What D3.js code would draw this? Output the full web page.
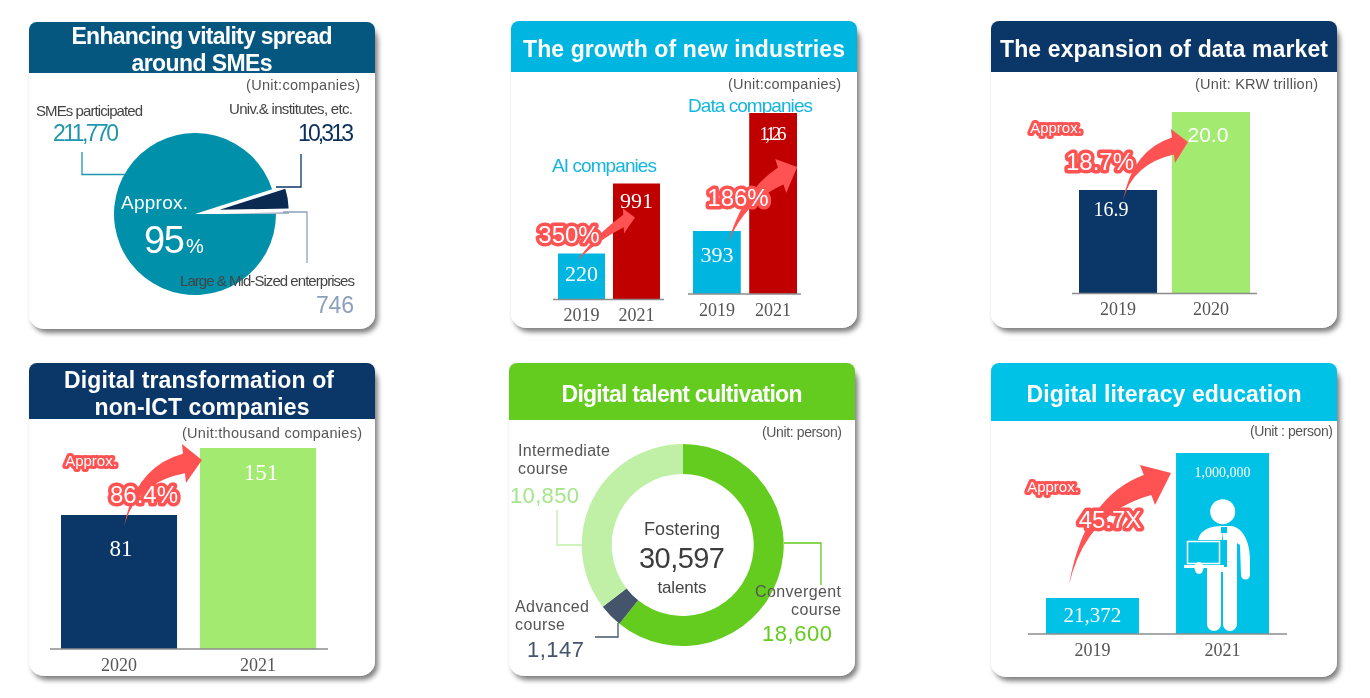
<!DOCTYPE html>
<html><head><meta charset="utf-8">
<script src="https://cdnjs.cloudflare.com/ajax/libs/d3/7.8.5/d3.min.js"></script>
<style>html,body{margin:0;padding:0;background:#fff;overflow:hidden}svg{display:block;filter:blur(.35px)}</style>
</head><body><svg id="c" width="1370" height="698"></svg>
<script>
// ---------- data ----------
const smeLabels = ["SMEs participated", "Univ.& institutes, etc.", "Large & Mid-Sized enterprises"];
const smeValues = [211770, 10313, 746];
const aiYears = ["2019", "2021"];
const aiValues = [220, 991];
const dataCoYears = ["2019", "2021"];
const dataCoValues = [393, 1126];
const marketYears = ["2019", "2020"];
const marketValues = [16.9, 20.0];
const nonIctYears = ["2020", "2021"];
const nonIctValues = [81, 151];
const talentLabels = ["Convergent course", "Advanced course", "Intermediate course"];
const talentValues = [18600, 1147, 10850];
const literacyYears = ["2019", "2021"];
const literacyValues = [21372, 1000000];

// ---------- layout ----------
const svg = d3.select("#c");
const SANS = "'Liberation Sans',Arial,sans-serif", SERIF = "'Liberation Serif',serif";
const defs = svg.append("defs");
defs.append("filter").attr("id","sh").attr("x","-10%").attr("y","-10%").attr("width","120%").attr("height","120%")
  .append("feDropShadow").attr("dx",3).attr("dy",4).attr("stdDeviation",2.6).attr("flood-color","#000").attr("flood-opacity",.5);

function text(str,o){
  const t = svg.append("text").text(str).attr("x",o.x).attr("y",o.y).attr("dy","0.35em")
    .attr("text-anchor",o.a||"middle").attr("font-family",o.f||SANS).attr("font-size",o.s)
    .attr("fill",o.c||"#555").attr("font-weight",o.w||400);
  if(o.ls!==undefined) t.attr("letter-spacing",o.ls);
  if(o.tl) t.attr("textLength",o.tl).attr("lengthAdjust","spacing");
  if(o.stroke) t.attr("stroke",o.stroke).attr("stroke-width",o.sw).attr("stroke-linejoin","round").attr("paint-order","stroke");
  return t;
}
function panel(x,y,w,h,hh,color,i){
  svg.append("rect").attr("x",x).attr("y",y).attr("width",w).attr("height",h).attr("rx",15).attr("fill","#fff").attr("filter","url(#sh)");
  const p=d3.path();
  p.moveTo(x,y+hh);p.lineTo(x,y+8);p.arcTo(x,y,x+8,y,8);p.lineTo(x+w-8,y);p.arcTo(x+w,y,x+w,y+8,8);p.lineTo(x+w,y+hh);p.closePath();
  svg.append("path").attr("d",p.toString()).attr("fill",color);
  defs.append("clipPath").attr("id","hc"+i).append("rect").attr("x",x).attr("y",y).attr("width",w).attr("height",hh);
}
function leader(pts,c){
  svg.append("path").attr("d",d3.line()(pts)).attr("fill","none").attr("stroke",c).attr("stroke-width",1.3);
}
function arrow(S,T,H1,H2,b){
  const lerp=(A,B,k)=>[A[0]+(B[0]-A[0])*k,A[1]+(B[1]-A[1])*k];
  const N1=lerp(H1,H2,.25),N2=lerp(H1,H2,.75);
  const ctrl=N=>[S[0]+(N[0]-S[0])*(.5-b),S[1]+(N[1]-S[1])*(.5+b)];
  const c1=ctrl(N1),c2=ctrl(N2),p=d3.path();
  p.moveTo(S[0],S[1]);p.quadraticCurveTo(c1[0],c1[1],N1[0],N1[1]);
  p.lineTo(H1[0],H1[1]);p.lineTo(T[0],T[1]);p.lineTo(H2[0],H2[1]);p.lineTo(N2[0],N2[1]);
  p.quadraticCurveTo(c2[0],c2[1],S[0],S[1]);p.closePath();
  svg.append("path").attr("d",p.toString()).attr("fill","#ff5252");
}
function callout(str,x,y,s){
  return text(str,{x,y,s,c:"#fff",stroke:"#ff5252",sw:s>20?7:6});
}
function bars(o){
  const x=d3.scaleBand().domain(o.cats).range(o.xr).paddingInner(o.pad);
  const y=d3.scaleLinear().domain(o.vals).range([o.base-o.h[0],o.base-o.h[1]]);
  const g=svg.append("g");
  g.selectAll("rect").data(o.vals).join("rect")
    .attr("x",(d,i)=>x(o.cats[i])).attr("width",x.bandwidth())
    .attr("y",d=>y(d)).attr("height",d=>o.base-y(d))
    .attr("fill",(d,i)=>o.colors[i]);
  const ax=svg.append("g").attr("transform",`translate(0,${o.base})`)
    .call(d3.axisBottom(x).tickSize(0).tickPadding(o.tp||9));
  ax.select(".domain").attr("d",`M${o.ax[0]},0H${o.ax[1]}`).attr("stroke","#8c8c8c").attr("stroke-width",1.5);
  ax.selectAll("text").attr("font-family",SERIF).attr("font-size",18).attr("fill","#555");
  o.vals.forEach((v,i)=>{
    const L=o.lab[i];
    text(L.t||String(v),{x:x(o.cats[i])+x.bandwidth()/2+(L.dx||0),y:y(v)+L.dy,s:L.s||21,f:L.f||SERIF,c:"#fff",tl:L.tl});
  });
  if(o.arrow){
    const A=o.arrow,a0=[x(o.cats[0]),y(o.vals[0])],a1=[x(o.cats[1]),y(o.vals[1])];
    const rel=(B,d)=>[B[0]+d[0],B[1]+d[1]];
    arrow(rel(a0,A.from),rel(a1,A.tip),rel(a1,A.h1),rel(a1,A.h2),A.b);
  }
}

// ---------- panels ----------
panel(29,22,346,307,51,"#05577f",1);
panel(511,21,346,307,51,"#00b6e0",2);
panel(991,21,346,307,51,"#0a3768",3);
panel(29,363,346,313,56,"#0a3768",4);
panel(509,363,346,313,57,"#63cc1e",5);
panel(991,363,346,314,58,"#00c2e6",6);

const T={s:23,c:"#fff",w:700};
text("Enhancing vitality spread",{...T,x:202,y:36,tl:261});
text("around SMEs",{...T,x:202,y:63,tl:141}).attr("clip-path","url(#hc1)");
text("The growth of new industries",{...T,x:684,y:49,tl:322});
text("The expansion of data market",{...T,x:1164,y:49,tl:328});
text("Digital transformation of",{...T,x:199,y:380,tl:270});
text("non-ICT companies",{...T,x:202,y:407,tl:215}).attr("clip-path","url(#hc4)");
text("Digital talent cultivation",{...T,x:682,y:394,tl:241});
text("Digital literacy education",{...T,x:1164,y:394,tl:275});

// ---------- panel 1: pie ----------
const cx1=195,cy1=214;
const smePie=d3.pie().sort(null).startAngle(Math.PI/2).endAngle(Math.PI*2.5)(smeValues);
const smeCol=["#0090aa","#0a2a52","#8da0bb"];
const smeR=[81,69,69],smeOff=[0,25,25];
svg.append("g").attr("transform",`translate(${cx1},${cy1})`).selectAll("path").data(smePie).join("path")
  .attr("d",(d,i)=>d3.arc().innerRadius(0).outerRadius(smeR[i])(d))
  .attr("transform",(d,i)=>{const a=(d.startAngle+d.endAngle)/2;return `translate(${Math.sin(a)*smeOff[i]},${-Math.cos(a)*smeOff[i]})`;})
  .attr("fill",(d,i)=>smeCol[i]);
leader([[82,152],[82,174.5],[125,174.5]],"#1f96ad");
leader([[301,154],[301,187],[276,187]],"#0a3768");
leader([[283,212],[307,212],[307,263]],"#8da0bb");
text("(Unit:companies)",{x:246,y:85,a:"start",s:14.5,tl:114});
text(smeLabels[0],{x:36,y:111,a:"start",s:15,c:"#444",tl:107});
text(d3.format(",")(smeValues[0]),{x:53,y:133,a:"start",s:23,c:"#1f96ad",tl:66});
text(smeLabels[1],{x:229,y:109,a:"start",s:15,c:"#444",tl:124});
text(d3.format(",")(smeValues[1]),{x:298,y:133,a:"start",s:23,c:"#0a2f5c",tl:56});
text("Approx.",{x:121,y:202,a:"start",s:19,c:"#fff",tl:67});
text("95",{x:144,y:240,a:"start",s:38,c:"#fff",tl:41});
text("%",{x:186,y:246,a:"start",s:20,c:"#fff"});
text(smeLabels[2],{x:180,y:281,a:"start",s:15,c:"#444",tl:175});
text(d3.format(",")(smeValues[2]),{x:316,y:305,a:"start",s:23,c:"#8da0bb",tl:38});

// ---------- panel 2: two bar groups ----------
text("(Unit:companies)",{x:728,y:84,a:"start",s:14.5,tl:113});
text("AI companies",{x:552,y:165,a:"start",s:19,c:"#14b5e0",tl:105});
text("Data companies",{x:688,y:105,a:"start",s:19,c:"#14b5e0",tl:125});
bars({cats:aiYears,vals:aiValues,xr:[558,660],pad:.145,base:299.5,h:[46,116],ax:[553,664],
  colors:["#00b6e0","#c00000"],lab:[{dy:20,s:22},{dy:17,s:22}],
  arrow:{from:[19,7],tip:[22,34],h1:[10,25],h2:[11,50],b:.08}});
bars({cats:dataCoYears,vals:dataCoValues,xr:[693,797],pad:.15,base:294,h:[63,181],ax:[688,801],
  colors:["#00b6e0","#c00000"],lab:[{dy:23,s:22},{dy:20,t:"1,126",s:19,tl:27}],
  arrow:{from:[35,12],tip:[48,54],h1:[26,46],h2:[37,80],b:.2}});
callout("350%",569,235,24);
callout("186%",738,198,24);

// ---------- panel 3 ----------
text("(Unit: KRW trillion)",{x:1195,y:84,a:"start",s:14.5,tl:123});
bars({cats:marketYears,vals:marketValues,xr:[1079,1250],pad:.16,base:293.5,h:[103.5,181.5],ax:[1072,1257],
  colors:["#0a3768","#a2ea70"],lab:[{dy:19,dx:-7,s:20},{dy:23,f:SANS,s:21,dx:-3,t:"20.0"}],
  arrow:{from:[44,10],tip:[16,30],h1:[-1,17],h2:[3,51],b:.3}});
callout("Approx.",1056,128,15);
callout("18.7%",1100,162,24);

// ---------- panel 4 ----------
text("(Unit:thousand companies)",{x:182,y:433,a:"start",s:14.5,tl:180});
bars({cats:nonIctYears,vals:nonIctValues,xr:[61,316],pad:.165,base:649,h:[134,201],ax:[50,328],
  colors:["#0a3768","#a2ea70"],lab:[{dy:33,dx:2,s:23},{dy:24,dx:3,s:23}],
  arrow:{from:[63,12],tip:[2,12],h1:[-18,-4],h2:[-14,35],b:.32}});
callout("Approx.",91,461,15);
callout("86.4%",144,495,24);

// ---------- panel 5: donut ----------
const cx5=682.7,cy5=545;
const talentPie=d3.pie().sort(null)(talentValues);
const talentCol=["#63cc1e","#44546a","#bff0a5"];
const arc5=d3.arc().innerRadius(71).outerRadius(101);
svg.append("g").attr("transform",`translate(${cx5},${cy5})`).selectAll("path").data(talentPie).join("path")
  .attr("d",arc5).attr("fill",(d,i)=>talentCol[i]);
leader([[557,510],[557,545],[582,545]],"#bff0a5");
leader([[784,543],[821,543],[821,585]],"#63cc1e");
leader([[618,623],[618,637],[595,637]],"#44546a");
text("(Unit: person)",{x:762,y:432,a:"start",s:14,tl:80});
text("Intermediate",{x:518,y:450,a:"start",s:16,tl:92});
text("course",{x:518,y:468,a:"start",s:16,tl:50});
text(d3.format(",")(talentValues[2]),{x:510,y:495,a:"start",s:22,c:"#a5e68a",tl:69});
text("Fostering",{x:682,y:529,s:18,c:"#444",tl:76});
text(d3.format(",")(d3.sum(talentValues)),{x:682,y:558,s:29,c:"#3d3d3d",tl:86});
text("talents",{x:682,y:587,s:17,c:"#444",tl:49});
text("Convergent",{x:841,y:591,a:"end",s:16,tl:86});
text("course",{x:841,y:609,a:"end",s:16,tl:50});
text(d3.format(",")(talentValues[0]),{x:797,y:633,s:22,c:"#63cc1e",tl:70});
text("Advanced",{x:515,y:606,a:"start",s:16,tl:74});
text("course",{x:515,y:624,a:"start",s:16,tl:50});
text(d3.format(",")(talentValues[1]),{x:527,y:649,a:"start",s:22,c:"#44546a",tl:57});

// ---------- panel 6 ----------
text("(Unit : person)",{x:1250,y:431,a:"start",s:14,tl:83});
bars({cats:literacyYears,vals:literacyValues,xr:[1046,1269],pad:.285,base:634,h:[36,181],ax:[1028,1287],
  colors:["#00c2e6","#00c2e6"],lab:[{dy:17,s:21,t:"21,372"},{dy:19,s:14,t:"1,000,000"}],
  arrow:{from:[23,-13],tip:[-5,20],h1:[-36,12],h2:[-21,52],b:.3}});
callout("Approx.",1053,487,15);
callout("45.7X",1110,520,24);

// person icon
const person=svg.append("g").attr("fill","#fff");
person.append("circle").attr("cx",1222.7).attr("cy",511.7).attr("r",12.5);
person.append("path").attr("d","M1198,540 C1200,530 1210,526 1222,526 L1232,526 C1242,528 1250,540 1250,560 L1250,575 A4.5,4.5 0 0 1 1241,575 L1240,545 L1237,543 L1237,624 A7,7 0 0 1 1223,624 L1223,572 L1221,572 L1221,624 A7,7 0 0 1 1207,624 L1207,567 L1227,567 L1227,540 Z");
person.append("path").attr("d","M1222,532 L1224,546 L1227,562 L1222,568 Z M1221,527 h6 v6 h-6 Z").attr("fill","#00c2e6");
person.append("rect").attr("x",1187.5).attr("y",541.5).attr("width",32).attr("height",22).attr("fill","#00c2e6").attr("stroke","#fff").attr("stroke-width",1.5);
person.append("rect").attr("x",1184).attr("y",565).attr("width",40).attr("height",3);
person.append("ellipse").attr("cx",1199).attr("cy",568).attr("rx",4.5).attr("ry",6);
</script></body></html>
